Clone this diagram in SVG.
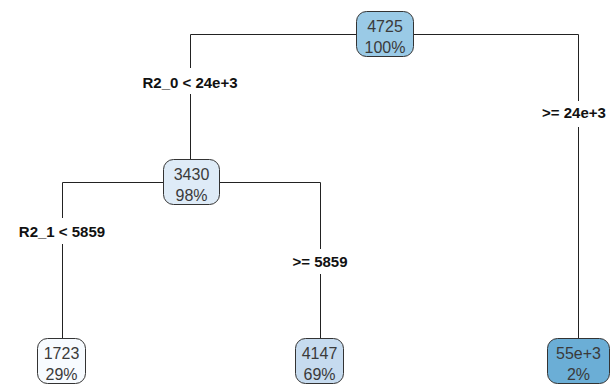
<svg xmlns="http://www.w3.org/2000/svg" width="613" height="385" viewBox="0 0 613 385">
<style>
.box{stroke:#333;stroke-width:1}
.nt{font-family:"Liberation Sans",Arial,sans-serif;font-size:16px;fill:#3a3a3a;text-anchor:middle}
.lb{font-family:"Liberation Sans",Arial,sans-serif;font-size:15px;font-weight:bold;fill:#111;text-anchor:middle}
.ln{stroke:#222;stroke-width:1;fill:none}
</style>
<rect width="613" height="385" fill="#fff"/>
<g id="connectors">
<path class="ln" d="M190.5,34.5H578.5M190.5,34.5V68M190.5,94V160M578.5,34.5V101M578.5,127V338"/>
<path class="ln" d="M62.5,182.5H320.5M62.5,182.5V218M62.5,244V338M320.5,182.5V249M320.5,274V338"/>
<text class="lb" x="190" y="88">R2_0 &lt; 24e+3</text>
<text class="lb" x="574" y="118">&gt;= 24e+3</text>
<text class="lb" x="62" y="237">R2_1 &lt; 5859</text>
<text class="lb" x="320" y="267">&gt;= 5859</text>
</g>
<g id="n1"><rect class="box" x="356.5" y="11.5" width="57" height="45" rx="10" fill="#9ACAE6"/><text class="nt" x="385" y="32">4725</text><text class="nt" x="385" y="53">100%</text></g>
<g id="n2"><rect class="box" x="163.5" y="159.5" width="56" height="45" rx="10" fill="#DEEBF7"/><text class="nt" x="191.5" y="180">3430</text><text class="nt" x="191.5" y="201">98%</text></g>
<g id="n3"><rect class="box" x="37.5" y="338.5" width="48" height="45" rx="10" fill="#F7FBFF"/><text class="nt" x="61.5" y="359">1723</text><text class="nt" x="61.5" y="380">29%</text></g>
<g id="n4"><rect class="box" x="295.5" y="338.5" width="48" height="45" rx="10" fill="#C6DBEF"/><text class="nt" x="319.5" y="359">4147</text><text class="nt" x="319.5" y="380">69%</text></g>
<g id="n5"><rect class="box" x="547.5" y="338.5" width="62" height="45" rx="10" fill="#6BAED6"/><text class="nt" x="578.5" y="359">55e+3</text><text class="nt" x="578.5" y="380">2%</text></g>
</svg>
